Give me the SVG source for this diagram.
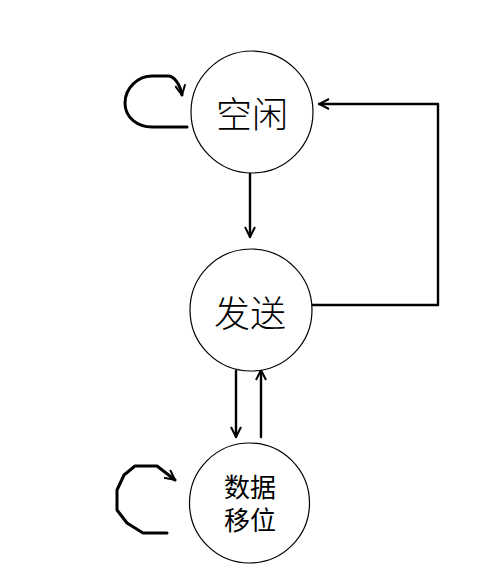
<svg xmlns="http://www.w3.org/2000/svg" width="504" height="587" viewBox="0 0 504 587">
<defs>
<style>
.node{fill:#fff;stroke:#000;stroke-width:1.2}
.lbl{font-family:"Noto Sans CJK SC","Noto Sans",sans-serif;fill:#000;text-anchor:middle}
.big{font-size:36px;font-weight:300;dominant-baseline:central}
.small{font-family:"Liberation Sans","Noto Sans CJK SC",sans-serif;font-size:26px}
.edge{fill:none;stroke:#000;stroke-width:2.4;stroke-linejoin:round;stroke-linecap:round}
.loop{stroke-width:3}
</style>
<marker id="ah" viewBox="0 0 12 12" refX="11" refY="6" markerWidth="12" markerHeight="12" markerUnits="userSpaceOnUse" orient="auto">
<path d="M1,1 L11,6 L1,11" fill="none" stroke="#000" stroke-width="2"/>
</marker>
</defs>
<rect width="504" height="587" fill="#fff"/>
<g id="connectors">
<path class="edge" d="M250,174 V237" marker-end="url(#ah)"/>
<path class="edge" d="M298,305 H438 V104 H319" marker-end="url(#ah)"/>
<path class="edge" d="M236,371 V437" marker-end="url(#ah)"/>
<path class="edge" d="M261,437 V370" marker-end="url(#ah)"/>
<path class="edge loop" d="M187,127 H152 C138,127 125,118 125,103 C125,88 138,76 152,76 H168 C174,76 180,84 182,95" marker-end="url(#ah)"/>
<path class="edge loop" d="M167,533 H143 L127,523 L117,510 V490 L124,475 L135,466 H157 L175,480" marker-end="url(#ah)"/>
</g>
<g id="node-idle">
<circle class="node" cx="252" cy="112" r="61"/>
<text class="lbl big" x="252" y="112">空闲</text>
</g>
<g id="node-send">
<circle class="node" cx="251" cy="310" r="61"/>
<text class="lbl big" x="250" y="311">发送</text>
</g>
<g id="node-shift">
<circle class="node" cx="249.5" cy="503" r="60"/>
<text class="lbl small" x="250" y="497"><tspan x="250" y="497">数据</tspan><tspan x="250" y="530">移位</tspan></text>
</g>
</svg>
